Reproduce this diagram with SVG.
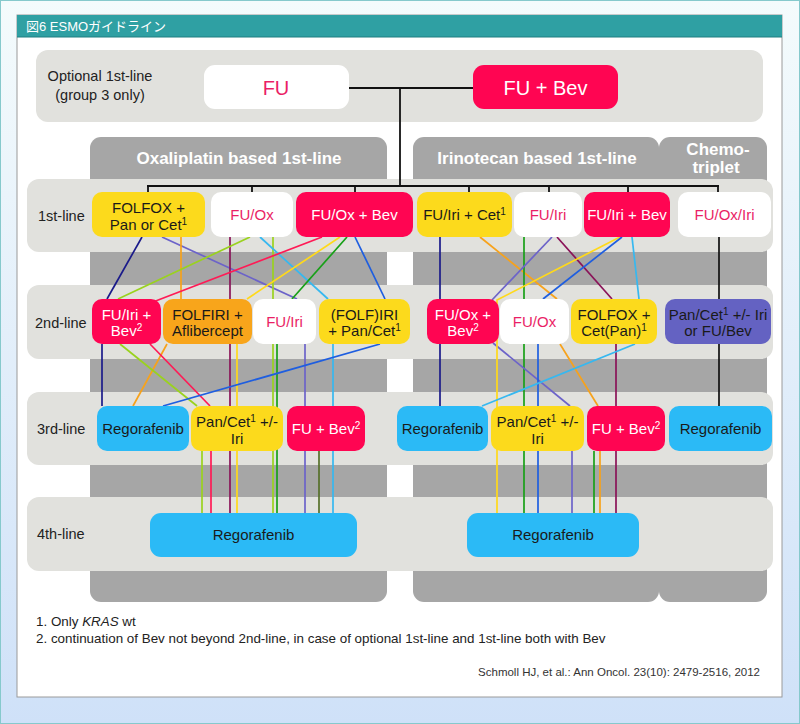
<svg xmlns="http://www.w3.org/2000/svg" width="800" height="724" viewBox="0 0 800 724">
<defs>
<linearGradient id="bg" x1="0" y1="0" x2="0" y2="1">
<stop offset="0" stop-color="#f4fbfc"/>
<stop offset="1" stop-color="#cfe1f8"/>
</linearGradient>
<style>
text{font-family:"Liberation Sans",Arial,"Noto Sans CJK JP",sans-serif}
.n{font-size:15px;text-anchor:middle}
.dk{fill:#1a1a1a}.wt{fill:#fff}.pk{fill:#ea1f66}
.sup{font-size:10px}
.lbl{font-size:14.5px;fill:#222}
.hd{font-size:17px;font-weight:bold;fill:#fff;text-anchor:middle}
.band{fill:#e1e1dd}
.col{fill:#a6a6a6}
.y{fill:#fcda1c}.r{fill:#ff0552}.w{fill:#fff}.o{fill:#f8a51b}.b{fill:#2bbaf6}.p{fill:#6462c2}
.c line,.c polyline{fill:none;stroke-width:1.7}
.k line{stroke:#111;stroke-width:1.8}
.fn{font-size:13.4px;fill:#222}
</style>
</defs>
<rect x="0.5" y="0.5" width="799" height="723" fill="url(#bg)" stroke="#86c9cc"/>
<rect x="17" y="15" width="765" height="682" fill="#fff" stroke="#9a9a9a"/>
<rect x="17" y="15" width="765" height="22" fill="#2fa0a3"/>
<line x1="17" y1="37" x2="782" y2="37" stroke="#1f7e80"/>
<text x="26" y="31" font-size="13" fill="#fff">図6 ESMOガイドライン</text>

<!-- optional band -->
<rect class="band" x="36" y="50" width="727" height="72" rx="12"/>
<text class="lbl" x="100" y="81" text-anchor="middle">Optional 1st-line</text>
<text class="lbl" x="100" y="100" text-anchor="middle">(group 3 only)</text>

<!-- columns -->
<rect class="col" x="90" y="137" width="297" height="465" rx="11"/>
<rect class="col" x="413" y="137" width="246" height="465" rx="11"/>
<rect class="col" x="659" y="137" width="108" height="465" rx="11"/>
<text class="hd" x="239" y="164">Oxaliplatin based 1st-line</text>
<text class="hd" x="537" y="164">Irinotecan based 1st-line</text>
<text class="hd" x="718" y="155" font-size="16">Chemo-</text>
<text class="hd" x="716" y="173" font-size="16">triplet</text>

<!-- row bands -->
<rect class="band" x="27" y="179" width="746" height="73" rx="12"/>
<rect class="band" x="27" y="285" width="746" height="74" rx="12"/>
<rect class="band" x="27" y="392" width="746" height="73" rx="12"/>
<rect class="band" x="27" y="497" width="746" height="74" rx="12"/>
<text class="lbl" x="38" y="221">1st-line</text>
<text class="lbl" x="35" y="328">2nd-line</text>
<text class="lbl" x="37" y="434">3rd-line</text>
<text class="lbl" x="37" y="539">4th-line</text>

<g id="connectors">
<g class="k">
<line x1="349" y1="88" x2="473" y2="88"/>
<line x1="400" y1="88" x2="400" y2="186"/>
<line x1="147" y1="186" x2="719" y2="186"/>
<line x1="148" y1="186" x2="148" y2="192"/>
<line x1="252" y1="186" x2="252" y2="192"/>
<line x1="355" y1="186" x2="355" y2="192"/>
<line x1="469" y1="186" x2="469" y2="192"/>
<line x1="549" y1="186" x2="549" y2="192"/>
<line x1="628" y1="186" x2="628" y2="192"/>
<line x1="718" y1="186" x2="718" y2="192"/>
</g>
<g class="c">
<!-- left side -->
<line stroke="#1a1a8a" x1="142" y1="237" x2="107" y2="299"/>
<line stroke="#1a1a8a" x1="102" y1="344" x2="102" y2="406"/>
<line stroke="#6c63c9" x1="162" y1="237" x2="297" y2="299"/>
<line stroke="#6c63c9" x1="305" y1="344" x2="305" y2="513"/>
<line stroke="#f7a21b" x1="181" y1="237" x2="181" y2="299"/>
<line stroke="#f7a21b" x1="167" y1="344" x2="133" y2="406"/>
<line stroke="#8a1258" x1="230" y1="237" x2="230" y2="513"/>
<line stroke="#9ad21e" x1="250" y1="237" x2="118" y2="299"/>
<line stroke="#9ad21e" x1="120" y1="344" x2="197" y2="406"/>
<line stroke="#9ad21e" x1="202" y1="451" x2="202" y2="513"/>
<line stroke="#9ad21e" x1="273" y1="237" x2="273" y2="513"/>
<line stroke="#36b8f0" x1="260" y1="237" x2="328" y2="299"/>
<line stroke="#36b8f0" x1="333" y1="344" x2="333" y2="513"/>
<line stroke="#ff1a55" x1="322" y1="237" x2="153" y2="302"/>
<line stroke="#ff1a55" x1="150" y1="344" x2="210" y2="406"/>
<line stroke="#ff1a55" x1="211" y1="451" x2="211" y2="513"/>
<line stroke="#ffd91a" x1="340" y1="237" x2="247" y2="299"/>
<line stroke="#ffd91a" x1="237" y1="344" x2="237" y2="513"/>
<line stroke="#18a018" x1="347" y1="237" x2="292" y2="299"/>
<line stroke="#18a018" x1="277" y1="344" x2="277" y2="513"/>
<line stroke="#1e5ee0" x1="355" y1="237" x2="385" y2="299"/>
<line stroke="#1e5ee0" x1="380" y1="344" x2="163" y2="406"/>
<line stroke="#56702a" x1="319" y1="451" x2="319" y2="513"/>
<!-- right side -->
<line stroke="#1a1a8a" x1="440" y1="237" x2="440" y2="406"/>
<line stroke="#f7a21b" x1="480" y1="237" x2="557" y2="299"/>
<line stroke="#f7a21b" x1="560" y1="344" x2="598" y2="406"/>
<line stroke="#f7a21b" x1="600" y1="451" x2="600" y2="513"/>
<line stroke="#18a018" x1="524" y1="237" x2="524" y2="513"/>
<line stroke="#6c63c9" x1="552" y1="237" x2="492" y2="300"/>
<line stroke="#6c63c9" x1="493" y1="343" x2="570" y2="406"/>
<line stroke="#6c63c9" x1="572" y1="451" x2="572" y2="513"/>
<line stroke="#8a1258" x1="557" y1="237" x2="612" y2="299"/>
<line stroke="#8a1258" x1="616" y1="344" x2="616" y2="513"/>
<polyline stroke="#ffd91a" points="620,237 497,300 497,513"/>
<line stroke="#1e5ee0" x1="622" y1="237" x2="543" y2="299"/>
<line stroke="#1e5ee0" x1="538" y1="344" x2="538" y2="513"/>
<line stroke="#36b8f0" x1="632" y1="237" x2="639" y2="299"/>
<line stroke="#36b8f0" x1="635" y1="344" x2="482" y2="406"/>
<line stroke="#111" x1="719" y1="237" x2="719" y2="299"/>
<line stroke="#111" x1="719" y1="344" x2="719" y2="406"/>
<line stroke="#18a018" x1="594" y1="451" x2="594" y2="513"/>
</g>
</g>

<!-- optional nodes -->
<g id="opt-fu"><rect class="w" x="204" y="65" width="145" height="44" rx="11"/><text x="276" y="95" font-size="20" text-anchor="middle" class="pk">FU</text></g>
<g id="opt-fubev"><rect class="r" x="473" y="65" width="145" height="44" rx="11"/><text x="545.5" y="95" font-size="20" text-anchor="middle" class="wt">FU + Bev</text></g>

<!-- 1st-line -->
<g id="l1-folfox"><rect class="y" x="92" y="192" width="113" height="45" rx="10"/><text class="n dk" x="148.5" y="213">FOLFOX +</text><text class="n dk" x="148.5" y="230">Pan or Cet<tspan class="sup" dy="-5">1</tspan></text></g>
<g id="l1-fuox"><rect class="w" x="211" y="192" width="82" height="45" rx="10"/><text class="n pk" x="252" y="220">FU/Ox</text></g>
<g id="l1-fuoxbev"><rect class="r" x="296" y="192" width="117" height="45" rx="10"/><text class="n wt" x="354.5" y="220">FU/Ox + Bev</text></g>
<g id="l1-fuiricet"><rect class="y" x="417" y="192" width="95" height="45" rx="10"/><text class="n dk" x="464.5" y="220">FU/Iri + Cet<tspan class="sup" dy="-5">1</tspan></text></g>
<g id="l1-fuiri"><rect class="w" x="514" y="192" width="68" height="45" rx="10"/><text class="n pk" x="548" y="220">FU/Iri</text></g>
<g id="l1-fuiribev"><rect class="r" x="584" y="192" width="86" height="45" rx="10"/><text class="n wt" x="627" y="220">FU/Iri + Bev</text></g>
<g id="l1-fuoxiri"><rect class="w" x="678" y="192" width="93" height="45" rx="10"/><text class="n pk" x="724.5" y="220">FU/Ox/Iri</text></g>

<!-- 2nd-line -->
<g id="l2-fuiribev"><rect class="r" x="92" y="299" width="69" height="45" rx="10"/><text class="n wt" x="126.5" y="320">FU/Iri +</text><text class="n wt" x="126.5" y="336">Bev<tspan class="sup" dy="-5">2</tspan></text></g>
<g id="l2-folfiri"><rect class="o" x="163" y="299" width="89" height="45" rx="10"/><text class="n dk" x="207.5" y="320">FOLFIRI +</text><text class="n dk" x="207.5" y="336">Aflibercept</text></g>
<g id="l2-fuiri"><rect class="w" x="253" y="299" width="63" height="45" rx="10"/><text class="n pk" x="284.5" y="327">FU/Iri</text></g>
<g id="l2-folfiripan"><rect class="y" x="319" y="299" width="91" height="45" rx="10"/><text class="n dk" x="364.5" y="320">(FOLF)IRI</text><text class="n dk" x="364.5" y="336">+ Pan/Cet<tspan class="sup" dy="-5">1</tspan></text></g>
<g id="l2-fuoxbev"><rect class="r" x="427" y="299" width="72" height="45" rx="10"/><text class="n wt" x="463" y="320">FU/Ox +</text><text class="n wt" x="463" y="336">Bev<tspan class="sup" dy="-5">2</tspan></text></g>
<g id="l2-fuox"><rect class="w" x="500" y="299" width="69" height="45" rx="10"/><text class="n pk" x="534.5" y="327">FU/Ox</text></g>
<g id="l2-folfoxcet"><rect class="y" x="571" y="299" width="86" height="45" rx="10"/><text class="n dk" x="614" y="320">FOLFOX +</text><text class="n dk" x="614" y="336">Cet(Pan)<tspan class="sup" dy="-5">1</tspan></text></g>
<g id="l2-pancet"><rect class="p" x="665" y="299" width="106" height="45" rx="10"/><text class="n dk" x="718" y="320" font-size="14.5">Pan/Cet<tspan class="sup" dy="-5">1</tspan><tspan dy="5"> +/- Iri</tspan></text><text class="n dk" x="718" y="336" font-size="14.5">or FU/Bev</text></g>

<!-- 3rd-line -->
<g id="l3-rego-a"><rect class="b" x="97" y="406" width="92" height="45" rx="10"/><text class="n dk" x="143" y="434">Regorafenib</text></g>
<g id="l3-pancet-a"><rect class="y" x="191" y="406" width="92" height="45" rx="10"/><text class="n dk" x="237" y="427">Pan/Cet<tspan class="sup" dy="-5">1</tspan><tspan dy="5"> +/-</tspan></text><text class="n dk" x="237" y="444">Iri</text></g>
<g id="l3-fubev-a"><rect class="r" x="287" y="406" width="78" height="45" rx="10"/><text class="n wt" x="326" y="434">FU + Bev<tspan class="sup" dy="-5">2</tspan></text></g>
<g id="l3-rego-b"><rect class="b" x="397" y="406" width="91" height="45" rx="10"/><text class="n dk" x="442.5" y="434">Regorafenib</text></g>
<g id="l3-pancet-b"><rect class="y" x="491" y="406" width="93" height="45" rx="10"/><text class="n dk" x="537.5" y="427">Pan/Cet<tspan class="sup" dy="-5">1</tspan><tspan dy="5"> +/-</tspan></text><text class="n dk" x="537.5" y="444">Iri</text></g>
<g id="l3-fubev-b"><rect class="r" x="587" y="406" width="78" height="45" rx="10"/><text class="n wt" x="626" y="434">FU + Bev<tspan class="sup" dy="-5">2</tspan></text></g>
<g id="l3-rego-c"><rect class="b" x="669" y="406" width="103" height="45" rx="10"/><text class="n dk" x="720.5" y="434">Regorafenib</text></g>

<!-- 4th-line -->
<g id="l4-rego-a"><rect class="b" x="150" y="513" width="207" height="44" rx="11"/><text class="n dk" x="253.5" y="540">Regorafenib</text></g>
<g id="l4-rego-b"><rect class="b" x="467" y="513" width="172" height="44" rx="11"/><text class="n dk" x="553" y="540">Regorafenib</text></g>

<!-- footnotes -->
<text class="fn" x="36" y="626">1. Only <tspan font-style="italic">KRAS</tspan> wt</text>
<text class="fn" x="36" y="643">2. continuation of Bev not beyond 2nd-line, in case of optional 1st-line and 1st-line both with Bev</text>
<text x="760" y="676" font-size="11.5" fill="#333" text-anchor="end">Schmoll HJ, et al.: Ann Oncol. 23(10): 2479-2516, 2012</text>
</svg>
